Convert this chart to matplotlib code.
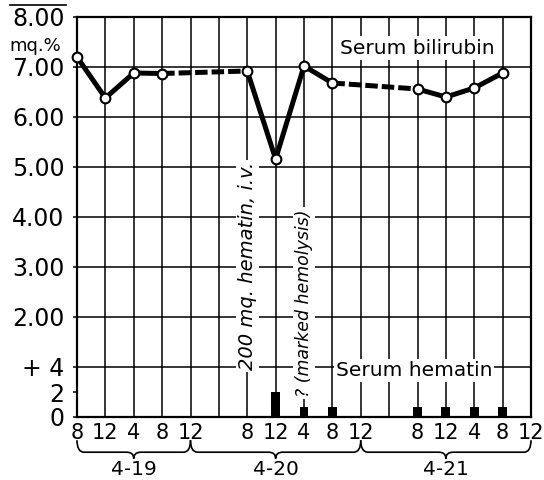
import numpy as np
import matplotlib
matplotlib.use("Agg")
import matplotlib.pyplot as plt
from matplotlib.path import Path
from matplotlib.patches import PathPatch
from matplotlib.lines import Line2D
import matplotlib.transforms as mtransforms

# hours after 8 a.m. on 4-19
bili_hours = [0, 4, 8, 12, 24, 28, 32, 36, 48, 52, 56, 60]
bilirubin = [7.20, 6.38, 6.88, 6.87, 6.92, 5.16, 7.02, 6.68, 6.56, 6.40, 6.58, 6.88]

hem_hours = [28, 32, 36, 48, 52, 56, 60]
hematin = [2.0, 0.8, 0.8, 0.8, 0.8, 0.8, 0.8]

tick_hours = list(range(0, 68, 4))
tick_labels = ["8", "12", "4", "8", "12", "", "8", "12", "4", "8", "12", "",
               "8", "12", "4", "8", "12"]

days = ["4-19", "4-20", "4-21"]
day_spans = [(0, 16), (16, 40), (40, 64)]

ytick_pos = [0, 0.5, 1, 2, 3, 4, 5, 6, 7, 8]
ytick_labels = ["0", "2", "+ 4", "2.00", "3.00", "4.00", "5.00", "6.00", "7.00", "8.00"]

plt.rcParams['font.family'] = ['DejaVu Sans']

fig = plt.figure(figsize=(5.44, 4.8), dpi=100)
ax = fig.add_axes([77 / 544, 63 / 480, 454 / 544, 400 / 480])
ax.set_xlim(0, 64)
ax.set_ylim(0, 8)

# grid
for h in tick_hours[1:-1]:
    ax.axvline(h, color="black", lw=1.1, zorder=1)
for y in range(1, 8):
    ax.axhline(y, color="black", lw=1.1, zorder=1)
for sp in ax.spines.values():
    sp.set_linewidth(1.6)

# hematin bars (4 units = one grid step)
ax.bar(hem_hours, np.array(hematin) / 4, width=1.25, color="black", zorder=3)

# bilirubin curve: solid between consecutive samples, dashed across gaps
for i in range(len(bili_hours) - 1):
    xs = bili_hours[i:i + 2]
    ys = bilirubin[i:i + 2]
    gap = xs[1] - xs[0] > 4
    ax.plot(xs, ys, color="black", lw=3.6, zorder=4,
            ls=(0, (2.5, 0.8)) if gap else "-", solid_capstyle="round",
            dash_capstyle="butt")
ax.plot(bili_hours, bilirubin, ls="none", marker="o", ms=7, mfc="white",
        mec="black", mew=1.5, zorder=5, clip_on=False)

ax.set_xticks(tick_hours)
ax.set_xticklabels(tick_labels, fontsize=15)
ax.set_yticks(ytick_pos)
ax.set_yticklabels(ytick_labels, fontsize=17)
ax.tick_params(axis="x", length=0, pad=4)
ax.tick_params(axis="y", length=3, width=1.1, pad=6)

box = dict(facecolor="white", edgecolor="none", pad=1.5)
ax.text(-0.035, 7.42, "mq.%", transform=ax.get_yaxis_transform(),
        ha="right", va="center", fontsize=13)
ax.text(48, 7.38, "Serum bilirubin", ha="center", va="center", fontsize=14.5,
        bbox=box, zorder=3)
ax.text(47.5, 0.93, "Serum hematin", ha="center", va="center", fontsize=14.5,
        bbox=box, zorder=3)
ax.text(24, 0.94, "200 mq. hematin, i.v.", rotation=90, ha="center",
        va="bottom", fontsize=14, style="italic", bbox=box, zorder=3)
ax.text(32, 0.4, "? (marked hemolysis)", rotation=90, ha="center",
        va="bottom", fontsize=12.5, style="italic", bbox=box, zorder=3)

# day braces below the hour labels
trans = mtransforms.blended_transform_factory(ax.transData, ax.transAxes)
ytop, ybase, ytip = -0.058, -0.088, -0.104
for name, (x0, x1) in zip(days, day_spans):
    xm = (x0 + x1) / 2
    d = 1.0
    verts = [(x0, ytop), (x0, ybase), (x0 + d, ybase),
             (xm - d, ybase), (xm, ybase), (xm, ytip),
             (xm, ybase), (xm + d, ybase),
             (x1 - d, ybase), (x1, ybase), (x1, ytop)]
    codes = [Path.MOVETO, Path.CURVE3, Path.CURVE3,
             Path.LINETO, Path.CURVE3, Path.CURVE3,
             Path.CURVE3, Path.CURVE3,
             Path.LINETO, Path.CURVE3, Path.CURVE3]
    ax.add_patch(PathPatch(Path(verts, codes), fill=False, lw=1.2,
                           transform=trans, clip_on=False))
    ax.text(xm, -0.132, name, transform=trans, ha="center", va="center",
            fontsize=14.5)

fig.add_artist(Line2D([10 / 544, 66 / 544], [1 - 5 / 480] * 2,
                      color="black", lw=1.2))

fig.savefig("out.png", dpi=100)
